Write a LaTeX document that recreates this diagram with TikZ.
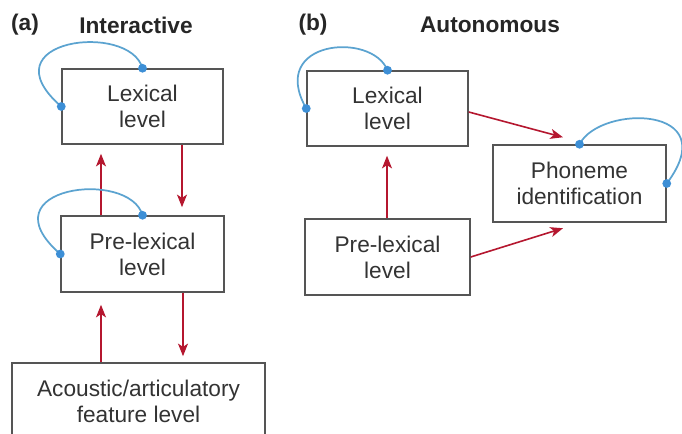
\documentclass[tikz,border=0pt]{standalone}
\usepackage{fontspec}
\setmainfont{Liberation Sans}
\usetikzlibrary{arrows.meta,calc}
\definecolor{arrred}{HTML}{B5172F}
\definecolor{loopblue}{HTML}{5BA3D0}
\definecolor{dotblue}{HTML}{3D8FD6}
\definecolor{boxgray}{HTML}{555555}
\definecolor{txtgray}{HTML}{333333}
\tikzset{
  levelbox/.style={draw=boxgray, line width=1.1pt, align=center, text=txtgray,
    font=\fontsize{17}{19.5}\selectfont, inner sep=0pt},
  titletext/.style={font=\bfseries\fontsize{17}{19.5}\selectfont, text=black!85, inner sep=0pt},
  redarrow/.style={draw=arrred, line width=1.2pt, -{Stealth[length=9.5pt,width=7.5pt,inset=2.5pt]}},
  selfloop/.style={draw=loopblue, line width=1.3pt},
  loopdot/.style={fill=dotblue, draw=none},
}
\begin{document}
\begin{tikzpicture}[x=0.75pt,y=-0.75pt]
\useasboundingbox (0,0) rectangle (682,434);
\clip (0,0) rectangle (682,434);
\fill[white] (0,0) rectangle (682,434);
% titles
\node[titletext] (alab) at (25,25) {(a)};
\node[titletext] (atitle) at (136,25) {Interactive};
\node[titletext] (blab) at (313,25) {(b)};
\node[titletext] (btitle) at (490,25) {Autonomous};
% (a) boxes
\node[levelbox, minimum width=120.75pt, minimum height=56.25pt] (aLex) at (142.5,106.5) {Lexical\\level};
\node[levelbox, minimum width=122.25pt, minimum height=57pt] (aPre) at (142.5,254) {Pre-lexical\\level};
\node[levelbox, minimum width=189.75pt, minimum height=57.75pt] (aAc) at (138.5,401.5) {Acoustic/articulatory\\feature level};
% (b) boxes
\node[levelbox, minimum width=120.75pt, minimum height=56.25pt] (bLex) at (387.5,108.5) {Lexical\\level};
\node[levelbox, minimum width=123.75pt, minimum height=57pt] (bPre) at (387.5,257) {Pre-lexical\\level};
\node[levelbox, minimum width=129.75pt, minimum height=57.75pt] (bPh) at (579.5,183.5) {Phoneme\\identification};
% (a) arrows
\draw[redarrow] ($(aPre.north)+(-41.5,0)$) -- ($(aLex.south)+(-41.5,9)$);
\draw[redarrow] ($(aLex.south)+(39.5,0)$) -- ($(aPre.north)+(39.5,-8)$);
\draw[redarrow] ($(aAc.north)+(-37.5,0)$) -- ($(aPre.south)+(-41.5,12)$);
\draw[redarrow] ($(aPre.south)+(40.5,0)$) -- ($(aAc.north)+(44.5,-6)$);
% (b) arrows
\draw[redarrow] ($(bPre.north)+(-0.5,0)$) -- ($(bLex.south)+(-0.5,9)$);
\draw[redarrow] ($(bLex.east)+(0,3.5)$) -- ($(bPh.north)+(-16.5,-7)$);
\draw[redarrow] (bPre.east) -- ($(bPh.south)+(-16.5,5.5)$);
% loops
\draw[selfloop] (aLex.north) .. controls +(-13,-47) and +(-77,-67) .. (aLex.west);
\draw[selfloop] (aPre.north) .. controls +(-13,-47) and +(-77,-67) .. (aPre.west);
\draw[selfloop] (bLex.north) .. controls +(-15.5,-39) and +(-39,-68.5) .. (bLex.west);
\draw[selfloop] (bPh.north) .. controls +(20.5,-40) and +(59,-78.5) .. (bPh.east);
% dots
\foreach \p in {aLex.north,aLex.west,aPre.north,aPre.west,bLex.north,bLex.west,bPh.north,bPh.east}
  \fill[loopdot] (\p) circle (3.3pt);
\end{tikzpicture}
\end{document}
